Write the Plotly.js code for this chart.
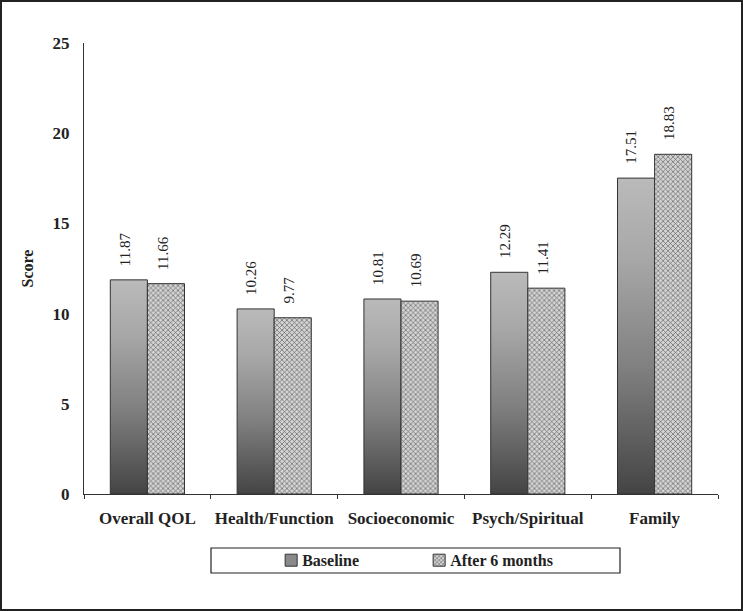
<!DOCTYPE html>
<html>
<head>
<meta charset="utf-8">
<script src="https://cdn.plot.ly/plotly-3.0.1.min.js"></script>
<style>
html,body{margin:0;padding:0;background:#fff;}
#wrap{position:relative;width:743px;height:611px;}
#chart{position:absolute;left:0;top:0;width:743px;height:611px;}
#frame{position:absolute;left:0;top:0;width:743px;height:611px;box-sizing:border-box;border:2px solid #222;pointer-events:none;}
</style>
</head>
<body>
<div id="wrap"><div id="chart"></div><div id="frame"></div></div>
<script>
const categories = ["Overall QOL", "Health/Function", "Socioeconomic", "Psych/Spiritual", "Family"];
const baseline = [11.87, 10.26, 10.81, 12.29, 17.51];
const after6 = [11.66, 9.77, 10.69, 11.41, 18.83];
const seriesNames = ["Baseline", "After 6 months"];
const yTicks = [0, 5, 10, 15, 20, 25];

const serif = "Liberation Serif, Times New Roman, serif";
const ink = "#222";

const traces = [
  {
    type: "bar", name: seriesNames[0], x: categories, y: baseline,
    marker: {color: "#8a8a8a", line: {color: "#333", width: 1}},
    hoverinfo: "skip"
  },
  {
    type: "bar", name: seriesNames[1], x: categories, y: after6,
    marker: {color: "#cfcfcf", line: {color: "#333", width: 1},
      pattern: {shape: "x", size: 3.5, solidity: 0.35, fgcolor: "#606060", bgcolor: "#d4d4d4", fillmode: "replace"}},
    hoverinfo: "skip"
  }
];

const annotations = [];
const series = [baseline, after6];
const shifts = [-19, 19];
series.forEach((vals, si) => {
  vals.forEach((v, i) => {
    annotations.push({
      x: categories[i], y: v, xref: "x", yref: "y",
      text: v.toFixed(2), showarrow: false, textangle: -90,
      xanchor: "center", yanchor: "bottom", xshift: shifts[si] - 4, yshift: 12,
      font: {family: serif, size: 15, color: ink}
    });
  });
});

const layout = {
  width: 743, height: 611,
  margin: {l: 84, r: 25, t: 43, b: 117},
  paper_bgcolor: "#fff", plot_bgcolor: "#fff",
  barmode: "group", bargap: 0.415, bargroupgap: 0,
  showlegend: true,
  legend: {
    orientation: "h", x: 0.281, xanchor: "left", y: -0.147, yanchor: "middle",
    font: {family: serif, size: 16, color: ink, weight: "bold"},
    bgcolor: "rgba(0,0,0,0)", borderwidth: 0, entrywidth: 103, itemwidth: 30
  },
  xaxis: {
    type: "category", range: [-0.5, 4.5],
    showline: true, linecolor: "#333", linewidth: 1,
    ticks: "outside", tickson: "boundaries", ticklen: 4, tickcolor: "#333",
    tickangle: 0,
    tickfont: {family: serif, size: 17, color: ink, weight: "bold"},
    ticklabelstandoff: 9, showgrid: false, zeroline: false
  },
  yaxis: {
    range: [0, 25], tickvals: yTicks, ticktext: yTicks.map(String),
    showline: true, linecolor: "#333", linewidth: 1, ticks: "",
    tickfont: {family: serif, size: 17, color: ink, weight: "bold"},
    ticklabelstandoff: 10,
    showgrid: false, zeroline: false,
    title: {text: "Score", font: {family: serif, size: 16, color: ink, weight: "bold"}, standoff: 14}
  },
  annotations: annotations,
  shapes: [{
    type: "rect", xref: "paper", yref: "paper",
    x0: (211 - 84) / 634, x1: (620 - 84) / 634,
    y0: (494 - 573) / 451, y1: (494 - 548) / 451,
    line: {color: "#222", width: 1.2}, fillcolor: "rgba(0,0,0,0)", layer: "below"
  }]
};

Plotly.newPlot("chart", traces, layout, {displayModeBar: false, staticPlot: true}).then(gd => {
  const svg = gd.querySelector(".main-svg");
  let defs = svg.querySelector("defs");
  const ns = "http://www.w3.org/2000/svg";
  const lg = document.createElementNS(ns, "linearGradient");
  lg.setAttribute("id", "baseGrad");
  lg.setAttribute("x1", "0"); lg.setAttribute("y1", "1");
  lg.setAttribute("x2", "0"); lg.setAttribute("y2", "0");
  [["0", "#444444"], ["0.4", "#808080"], ["0.75", "#a8a8a8"], ["1", "#bababa"]].forEach(([o, c]) => {
    const s = document.createElementNS(ns, "stop");
    s.setAttribute("offset", o); s.setAttribute("stop-color", c);
    lg.appendChild(s);
  });
  defs.appendChild(lg);
  const barTraces = gd.querySelectorAll(".barlayer .trace");
  if (barTraces.length) {
    barTraces[0].querySelectorAll("path").forEach(p => { p.style.fill = "url(#baseGrad)"; });
  }
  // nudge legend symbols closer to their labels
  gd.querySelectorAll(".legend .legendpoints").forEach(g => {
    g.setAttribute("transform", "translate(9,0)");
  });
});
</script>
</body>
</html>
